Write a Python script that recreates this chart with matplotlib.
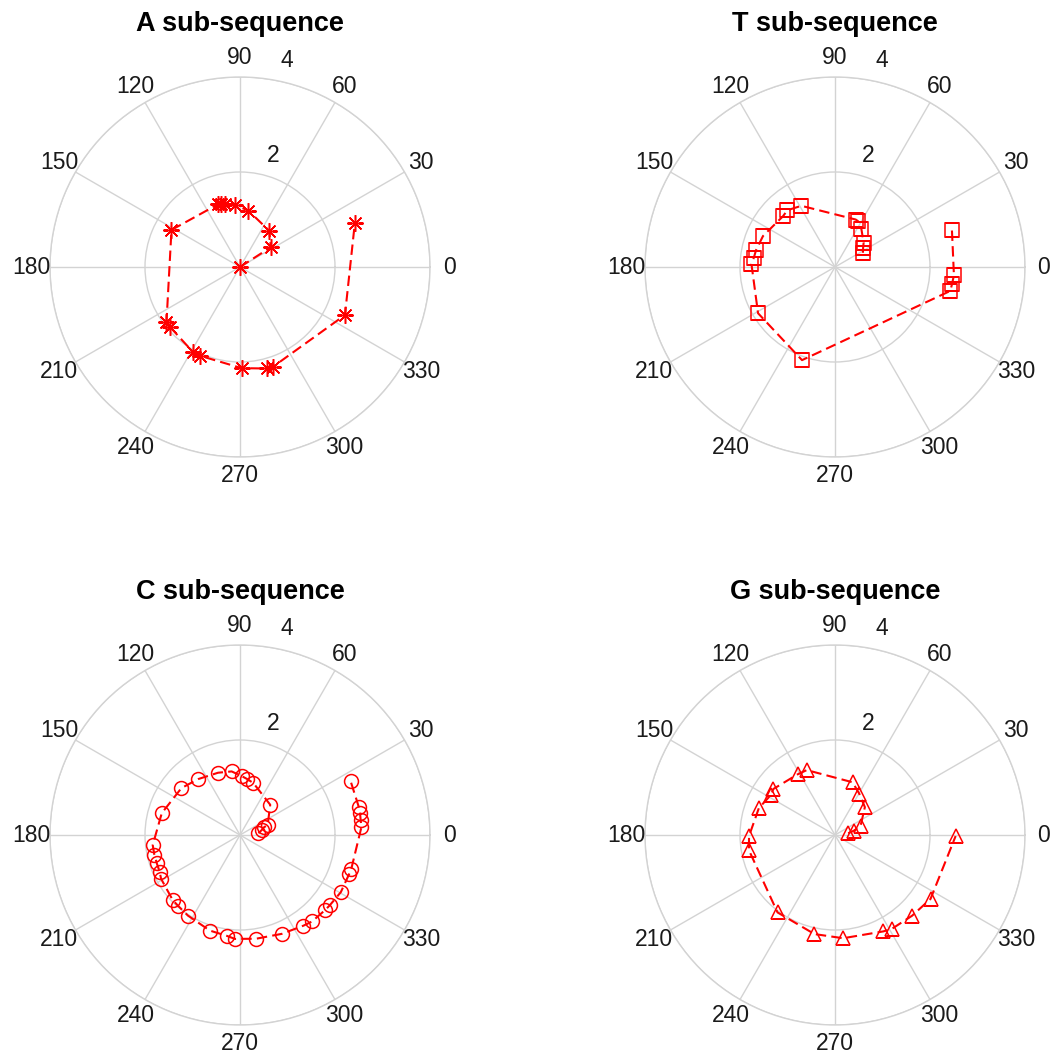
import numpy as np
import matplotlib
matplotlib.use("Agg")
import matplotlib.pyplot as plt

plt.rcParams['font.family'] = ['Liberation Sans', 'DejaVu Sans']

titles = ['A sub-sequence', 'T sub-sequence', 'C sub-sequence', 'G sub-sequence']

# angles in degrees, radii in drawing order
a_theta = [0, 32.7, 51, 81.6, 94.6, 103.4, 107, 109, 151.6, 216.7, 220.5,
           241.4, 245.8, 271, 284.8, 288.5, 335.4, 21]
a_r = [0, 0.77, 0.98, 1.20, 1.31, 1.36, 1.39, 1.40, 1.64, 1.93, 1.94,
       2.05, 2.05, 2.13, 2.21, 2.21, 2.43, 2.59]

t_theta = [27, 34.6, 40.3, 55, 63.4, 66.5, 118.8, 130, 135.6, 156.7, 168,
           173.5, 178, 211, 250.5, 348.3, 351.9, 356, 17.4]
t_r = [0.66, 0.72, 0.79, 0.97, 1.08, 1.09, 1.47, 1.56, 1.53, 1.65, 1.70,
       1.72, 1.76, 1.89, 2.08, 2.48, 2.49, 2.51, 2.58]

c_theta = [5.3, 13, 17.8, 20, 45, 75.6, 83, 88.3, 97.5, 109.4, 126.8, 141.3,
           164.4, 186.6, 193, 198.9, 204.6, 209, 224, 228.6, 237.1, 252.5,
           262.4, 267.2, 278.8, 293, 305, 309.8, 318.8, 321.9, 330.4, 340.2,
           342.8, 3.6, 7.1, 10.6, 13.2, 25.9]
c_r = [0.39, 0.47, 0.53, 0.62, 0.90, 1.13, 1.19, 1.24, 1.35, 1.39, 1.47, 1.58,
       1.71, 1.85, 1.85, 1.85, 1.86, 1.90, 1.97, 1.98, 2.02, 2.11,
       2.14, 2.19, 2.21, 2.26, 2.33, 2.37, 2.39, 2.40, 2.44, 2.44,
       2.45, 2.56, 2.56, 2.57, 2.57, 2.59]

g_theta = [7.5, 13, 19.5, 43, 59.7, 71.6, 113.5, 121.7, 143.3, 147.8, 160.5,
           180.7, 190, 233.4, 258.3, 274.5, 296.6, 301, 313.7, 326.2, 359.5]
g_r = [0.28, 0.41, 0.57, 0.86, 1.01, 1.17, 1.49, 1.50, 1.62, 1.59, 1.70,
       1.81, 1.84, 2.03, 2.13, 2.18, 2.27, 2.31, 2.35, 2.42, 2.54]

series = [(a_theta, a_r), (t_theta, t_r), (c_theta, c_r), (g_theta, g_r)]
markers = [(8, 2, 0), 's', 'o', '^']
msizes = [12, 9.5, 10, 10.5]

angle_ticks = list(range(0, 360, 30))
r_ticks = [2, 4]

grid_col = '#d3d3d3'
w, h = 380 / 1050, 380 / 1057
positions = [[50 / 1050, 600 / 1057, w, h], [645 / 1050, 600 / 1057, w, h],
             [50 / 1050, 32 / 1057, w, h], [645 / 1050, 32 / 1057, w, h]]

fig = plt.figure(figsize=(10.5, 10.57), dpi=100)

for k in range(4):
    ax = fig.add_axes(positions[k], projection='polar')
    th, rr = series[k]
    ax.plot(np.deg2rad(th), rr, color='red', linestyle='--', dashes=(5, 2.5),
            linewidth=1.5, marker=markers[k], markersize=msizes[k],
            markerfacecolor='none', markeredgecolor='red', markeredgewidth=1.1)
    ax.set_rlim(0, 4)
    ax.set_thetagrids(angle_ticks, labels=[''] * len(angle_ticks))
    ax.set_rgrids(r_ticks, labels=[''] * len(r_ticks))
    ax.grid(color=grid_col, linewidth=1.0)
    ax.spines['polar'].set_color(grid_col)
    ax.spines['polar'].set_linewidth(1.0)
    for a in angle_ticks:
        ax.text(np.deg2rad(a), 4.4, str(a), ha='center', va='center',
                fontsize=16.5, color='#1a1a1a')
    ax.text(np.deg2rad(73.4), 2.46, '2', ha='center', va='center',
            fontsize=16.5, color='#1a1a1a')
    ax.text(np.deg2rad(77.2), 4.46, '4', ha='center', va='center',
            fontsize=16.5, color='#1a1a1a')
    ax.text(0.5, 1.14, titles[k], transform=ax.transAxes, ha='center', va='center',
            fontsize=19.5, fontweight='bold')

plt.savefig('out.png', dpi=100)
